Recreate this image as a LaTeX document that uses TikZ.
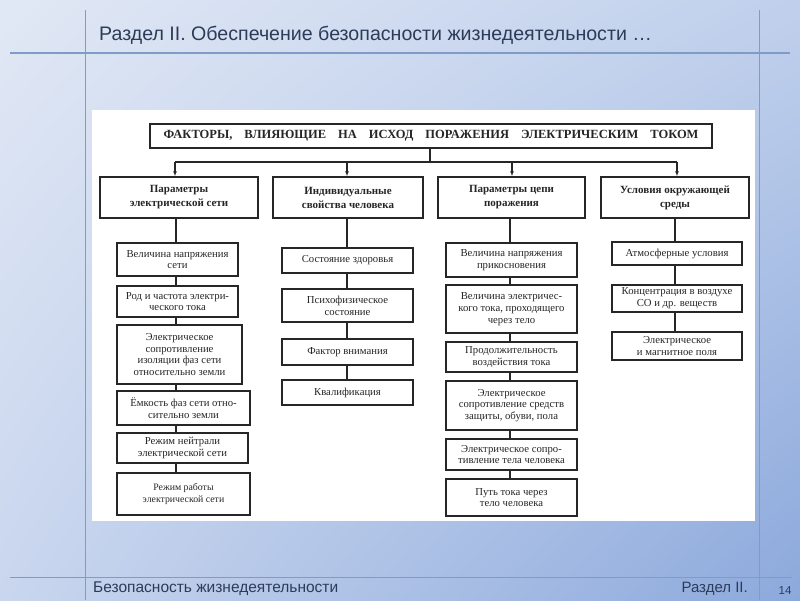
\documentclass[tikz,border=0pt]{standalone}
\usepackage{fontspec}
\setmainfont{Liberation Serif}
\newfontfamily\hdrfont{Liberation Sans}
\usetikzlibrary{arrows.meta,shadings}
\definecolor{bgTL}{HTML}{E1E8F5}
\definecolor{bgTR}{HTML}{C0D0EC}
\definecolor{bgBL}{HTML}{C9D6EE}
\definecolor{bgBR}{HTML}{8CA9DC}
\definecolor{lineC}{HTML}{7F9BC8}
\definecolor{hdrC}{HTML}{2C3C58}
\definecolor{ink}{HTML}{262626}
\begin{document}
\begin{tikzpicture}[x=1pt,y=-1pt,
  frame/.style={draw=lineC, line width=1pt},
  box/.style={draw=ink, line width=1.1pt, fill=white, align=center, inner sep=1pt, text=ink,
    font=\fontsize{10.7}{11.8}\selectfont},
  small/.style={font=\fontsize{9.8}{12}\selectfont},
  cat/.style={box, line width=1.5pt, font=\fontsize{11}{14}\selectfont\bfseries},
  topbox/.style={box, line width=2pt, font=\fontsize{12.5}{14}\selectfont\bfseries},
  dims/.style n args={2}{minimum width=#1, minimum height=#2},
  wire/.style={draw=ink, line width=1.1pt},
  arr/.style={wire, -{Latex[length=5pt,width=4pt]}},
  hdr/.style={text=hdrC, inner sep=0pt}
]
\useasboundingbox (0,0) rectangle (800,600);
\shade[upper left=bgTL, upper right=bgTR, lower left=bgBL, lower right=bgBR] (0,0) rectangle (800,600);
% slide frame lines
\draw[frame] (85,10) -- (85,600);
\draw[frame] (759,10) -- (759,600);
\draw[frame, line width=1.3pt] (10,53) -- (790,53);
\draw[frame] (10,577) -- (792,577);
% header / footer texts
\node[hdr, anchor=base west, font=\hdrfont\fontsize{19.6}{24}\selectfont] (title) at (99,40)
  {Раздел II. Обеспечение безопасности жизнедеятельности …};
\node[hdr, anchor=base west, font=\hdrfont\fontsize{15.5}{18}\selectfont] (foot) at (93,592)
  {Безопасность жизнедеятельности};
\node[hdr, anchor=base east, font=\hdrfont\fontsize{15}{18}\selectfont] (footr) at (748,592)
  {Раздел II.};
\node[hdr, anchor=base, font=\hdrfont\fontsize{11.5}{13}\selectfont] (pgno) at (785,594) {14};
% white picture area
\fill[white] (92,110) rectangle (755,521);
% top box
\node[topbox, dims={562}{24}] (top) at (431,136)
  {\hbox to 535pt{ФАКТОРЫ,\hfill ВЛИЯЮЩИЕ\hfill НА\hfill ИСХОД\hfill ПОРАЖЕНИЯ\hfill ЭЛЕКТРИЧЕСКИМ\hfill ТОКОМ}};
% categories
\node[cat, dims={158}{41}] (c1) at (179,197.5) {Параметры\\электрической сети};
\node[cat, dims={150}{41}] (c2) at (348,197.5) {Индивидуальные\\свойства человека};
\node[cat, dims={147}{41}] (c3) at (511.5,197.5) {Параметры цепи\\поражения};
\node[cat, dims={148}{41}] (c4) at (675,197.5) {Условия окружающей\\среды};
% column 1
\node[box, dims={121}{33}] (s11) at (177.5,259.5) {Величина напряжения\\сети};
\node[box, dims={121}{31}] (s12) at (177.5,301.5) {Род и частота электри-\\ческого тока};
\node[box, dims={125}{59}] (s13) at (179.5,354.5) {Электрическое\\сопротивление\\изоляции фаз сети\\относительно земли};
\node[box, dims={133}{34}] (s14) at (183.5,408) {Ёмкость фаз сети отно-\\сительно земли};
\node[box, dims={131}{30}] (s15) at (182.5,448) {Режим нейтрали\\электрической сети};
\node[box, small, dims={133}{42}] (s16) at (183.5,494) {Режим работы\\электрической сети};
% column 2
\node[box, dims={131}{25}] (s21) at (347.5,260.5) {Состояние здоровья};
\node[box, dims={131}{33}] (s22) at (347.5,305.5) {Психофизическое\\состояние};
\node[box, dims={131}{26}] (s23) at (347.5,352) {Фактор внимания};
\node[box, dims={131}{25}] (s24) at (347.5,392.5) {Квалификация};
% column 3
\node[box, dims={131}{34}] (s31) at (511.5,260) {Величина напряжения\\прикосновения};
\node[box, dims={131}{48}] (s32) at (511.5,309) {Величина электричес-\\кого тока, проходящего\\через тело};
\node[box, dims={131}{30}] (s33) at (511.5,357) {Продолжительность\\воздействия тока};
\node[box, dims={131}{49}] (s34) at (511.5,405.5) {Электрическое\\сопротивление средств\\защиты, обуви, пола};
\node[box, dims={131}{31}] (s35) at (511.5,454.5) {Электрическое сопро-\\тивление тела человека};
\node[box, dims={131}{37}] (s36) at (511.5,497.5) {Путь тока через\\тело человека};
% column 4
\node[box, dims={130}{23}] (s41) at (677,253.5) {Атмосферные условия};
\node[box, dims={130}{27}] (s42) at (677,298.5) {Концентрация в воздухе\\CO и др. веществ};
\node[box, dims={130}{28}] (s43) at (677,346) {Электрическое\\и магнитное поля};
% bus
\coordinate (bus) at (430,162);
\coordinate (a1) at (175,162);
\coordinate (a2) at (347,162);
\coordinate (a3) at (512,162);
\coordinate (a4) at (677,162);
\draw[wire] (top.south -| bus) -- (bus);
\draw[wire] (a1) -- (a4);
\draw[arr] (a1) -- (a1 |- c1.north);
\draw[arr] (a2) -- (a2 |- c2.north);
\draw[arr] (a3) -- (a3 |- c3.north);
\draw[arr] (a4) -- (a4 |- c4.north);
% trunks
\coordinate (t1) at (176,0);
\coordinate (t2) at (347,0);
\coordinate (t3) at (510,0);
\coordinate (t4) at (675,0);
\draw[wire] (c1.south -| t1) -- (s11.north -| t1);
\draw[wire] (s11.south -| t1) -- (s12.north -| t1);
\draw[wire] (s12.south -| t1) -- (s13.north -| t1);
\draw[wire] (s13.south -| t1) -- (s14.north -| t1);
\draw[wire] (s14.south -| t1) -- (s15.north -| t1);
\draw[wire] (s15.south -| t1) -- (s16.north -| t1);
\draw[wire] (c2.south -| t2) -- (s21.north -| t2);
\draw[wire] (s21.south -| t2) -- (s22.north -| t2);
\draw[wire] (s22.south -| t2) -- (s23.north -| t2);
\draw[wire] (s23.south -| t2) -- (s24.north -| t2);
\draw[wire] (c3.south -| t3) -- (s31.north -| t3);
\draw[wire] (s31.south -| t3) -- (s32.north -| t3);
\draw[wire] (s32.south -| t3) -- (s33.north -| t3);
\draw[wire] (s33.south -| t3) -- (s34.north -| t3);
\draw[wire] (s34.south -| t3) -- (s35.north -| t3);
\draw[wire] (s35.south -| t3) -- (s36.north -| t3);
\draw[wire] (c4.south -| t4) -- (s41.north -| t4);
\draw[wire] (s41.south -| t4) -- (s42.north -| t4);
\draw[wire] (s42.south -| t4) -- (s43.north -| t4);
\end{tikzpicture}
\end{document}
